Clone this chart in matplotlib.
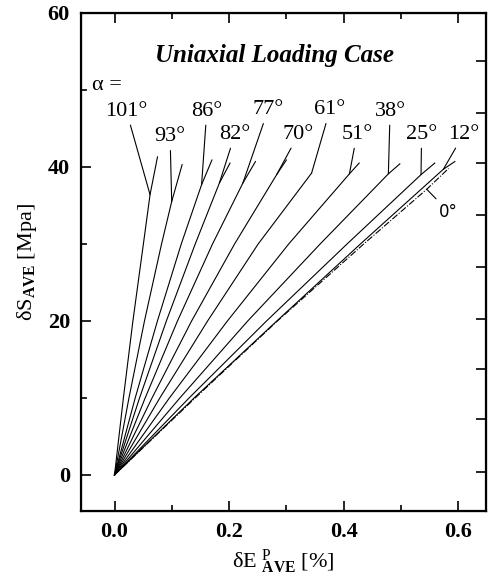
import matplotlib
matplotlib.use("Agg")
import matplotlib.pyplot as plt
from matplotlib.ticker import MultipleLocator

plt.rcParams["font.family"] = ["Liberation Serif", "DejaVu Serif"]
plt.rcParams["mathtext.fontset"] = "custom"
plt.rcParams["mathtext.rm"] = "Liberation Serif"
plt.rcParams["mathtext.it"] = "Liberation Serif:italic"
plt.rcParams["mathtext.bf"] = "Liberation Serif:bold"

# loading angle of each curve (deg)
angles = [101, 93, 86, 82, 77, 70, 61, 51, 38, 25, 12, 0]

# stress levels (MPa) and plastic strain (%)
stress = {
    101: [0, 10, 20, 30, 36.4, 41.3],
    93: [0, 10, 20, 30, 35.5, 40.3],
    86: [0, 10, 20, 30, 37.7, 40.9],
    82: [0, 10, 20, 30, 37.9, 40.5],
    77: [0, 10, 20, 30, 37.9, 40.7],
    70: [0, 10, 20, 30, 39.0, 40.9],
    61: [0, 10, 20, 30, 39.2],
    51: [0, 10, 20, 30, 39.1, 40.5],
    38: [0, 10, 20, 30, 39.1, 40.4],
    25: [0, 10, 20, 30, 39.0, 40.5],
    12: [0, 10, 20, 30, 39.7, 40.7],
    0: [0, 10, 20, 30, 37.1, 39.8],
}
strain = {
    101: [0, 0.0155, 0.0321, 0.0504, 0.062, 0.075],
    93: [0, 0.0252, 0.0523, 0.0821, 0.0998, 0.118],
    86: [0, 0.0361, 0.0749, 0.1165, 0.152, 0.170],
    82: [0, 0.0437, 0.0905, 0.1409, 0.183, 0.2016],
    77: [0, 0.0535, 0.1099, 0.1711, 0.224, 0.246],
    70: [0, 0.0655, 0.1346, 0.2096, 0.283, 0.300],
    61: [0, 0.0791, 0.1625, 0.2508, 0.344],
    51: [0, 0.0958, 0.1971, 0.3041, 0.410, 0.427],
    38: [0, 0.1141, 0.2326, 0.3590, 0.478, 0.498],
    25: [0, 0.1302, 0.2654, 0.4060, 0.535, 0.559],
    12: [0, 0.1390, 0.2834, 0.4293, 0.574, 0.594],
    0: [0, 0.1408, 0.2844, 0.4351, 0.545, 0.583],
}

# label text positions (strain, stress) and the point the leader touches
label_pos = {
    101: (0.021, 47.2), 93: (0.097, 43.9), 86: (0.161, 47.2), 82: (0.210, 44.2),
    77: (0.268, 47.4), 70: (0.321, 44.2), 61: (0.376, 47.4), 51: (0.423, 44.2),
    38: (0.481, 47.2), 25: (0.536, 44.2), 12: (0.609, 44.2), 0: (0.583, 34.2),
}
leader_pt = {
    101: (0.062, 36.4), 93: (0.0998, 35.5), 86: (0.152, 37.7), 82: (0.183, 37.9),
    77: (0.224, 37.9), 70: (0.283, 39.0), 61: (0.344, 39.2), 51: (0.410, 39.1),
    38: (0.478, 39.1), 25: (0.535, 39.0), 12: (0.574, 39.7), 0: (0.545, 37.1),
}

# unlabeled ticks on the right-hand frame
right_ticks = [0.4, 7.2, 13.7, 20.2, 27.0, 33.8, 40.5, 47.0, 53.7]

fig = plt.figure(figsize=(4.88, 5.88), dpi=100)
ax = fig.add_axes([0.166, 0.131, 0.830, 0.847])

for a in angles:
    ls = (0, (6, 1.5, 1, 1.5)) if a == 0 else "-"
    ax.plot(strain[a], stress[a], color="black", lw=0.8, ls=ls)

for a in angles:
    fam = ["DejaVu Sans"] if a == 0 else ["Liberation Serif"]
    fs = 12 if a == 0 else 16
    ax.annotate(f"{a}°", xy=leader_pt[a], xytext=label_pos[a],
                ha="center", va="center", fontsize=fs, family=fam,
                arrowprops=dict(arrowstyle="-", lw=0.8, color="black",
                                shrinkA=1, shrinkB=0))

ax.text(-0.040, 50.6, "α =", ha="left", va="center", fontsize=16)
ax.text(0.280, 54.5, "Uniaxial Loading Case", ha="center", va="center",
        fontsize=18, fontweight="bold", fontstyle="italic")

ax.set_xlim(-0.0585, 0.6485)
ax.set_ylim(-4.68, 60)
ax.xaxis.set_major_locator(MultipleLocator(0.2))
ax.xaxis.set_minor_locator(MultipleLocator(0.1))
ax.yaxis.set_major_locator(MultipleLocator(20))
ax.yaxis.set_minor_locator(MultipleLocator(10))
ax.tick_params(which="both", direction="in", top=True, right=False, width=1.2)
ax.tick_params(which="major", length=7, labelsize=16, pad=8)
ax.tick_params(which="minor", length=4)
for lab in ax.get_xticklabels() + ax.get_yticklabels():
    lab.set_fontweight("bold")
for sp in ax.spines.values():
    sp.set_linewidth(1.6)

ax.set_xlabel(r"δE $^{\mathrm{P}}_{\mathbf{AVE}}$ [%]", fontsize=16, labelpad=4)
ax.set_ylabel(r"δS$_{\mathbf{AVE}}$ [Mpa]", fontsize=16, labelpad=6)

ax2 = ax.twinx()
ax2.set_ylim(ax.get_ylim())
ax2.set_yticks(right_ticks)
ax2.tick_params(axis="y", direction="in", length=7, width=1.2, labelright=False)

fig.savefig("out.png", dpi=100)
